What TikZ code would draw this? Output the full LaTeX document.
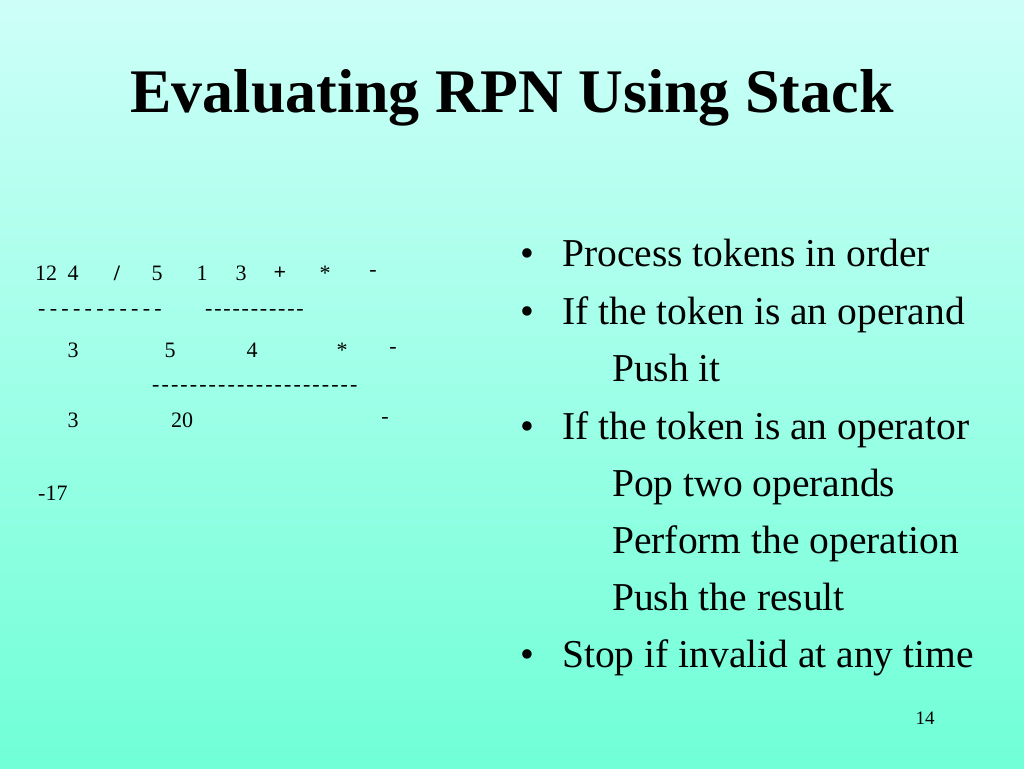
\documentclass[tikz,border=0pt]{standalone}
\usepackage{fontspec}
\setmainfont{Liberation Serif}
\newcommand\dsh[2]{\foreach\k in {1,...,#1}{-\kern#2}}
\begin{document}
\begin{tikzpicture}[x=1pt,y=-1pt,
  tok/.style={font=\fontsize{22}{26}\selectfont,inner sep=0pt},
  bul/.style={font=\fontsize{39.5}{44}\selectfont,anchor=base west,inner sep=0pt}]
\definecolor{topc}{RGB}{205,255,248}
\definecolor{botc}{RGB}{112,255,215}
\shade[top color=topc,bottom color=botc] (0,0) rectangle (1024,768);
\useasboundingbox (0,0) rectangle (1024,768);
\node[font=\bfseries\fontsize{62}{68}\selectfont] (title) at (512,98) {Evaluating RPN Using Stack};
% left stack trace
\foreach \t/\x [count=\i] in {12/46,4/73,{\textbf{/}}/117,5/157,1/202,3/241,\textbf{+}/280,*/325,-/373}
  \node[tok] (a\i) at (\x,273) {\t};
\node[tok,anchor=west] (d1) at (38,312) {\dsh{11}{4.3pt}};
\node[tok,anchor=west] (d2) at (205,312) {\dsh{11}{1.8pt}};
\foreach \t/\x [count=\i] in {3/73,5/170,4/252,*/342,-/393}
  \node[tok] (b\i) at (\x,350) {\t};
\node[tok,anchor=west] (d3) at (152,388) {\dsh{22}{2.1pt}};
\foreach \t/\x [count=\i] in {3/73,20/182,-/385}
  \node[tok] (c\i) at (\x,420) {\t};
\node[tok,anchor=west] (r) at (38,493) {-17};
% bullets
\foreach \t/\y [count=\i] in {Process tokens in order/266,If the token is an operand/324,If the token is an operator/439,Stop if invalid at any time/667}{
  \node[bul] (bb\i) at (520,\y) {\textbullet};
  \node[bul] (bt\i) at (562,\y) {\t};}
\foreach \t/\y [count=\i] in {Push it/381,Pop two operands/496,Perform the operation/553,Push the result/610}
  \node[bul] (s\i) at (612,\y) {\t};
\node[font=\fontsize{19}{22}\selectfont] (pg) at (925,718) {14};
\end{tikzpicture}
\end{document}
